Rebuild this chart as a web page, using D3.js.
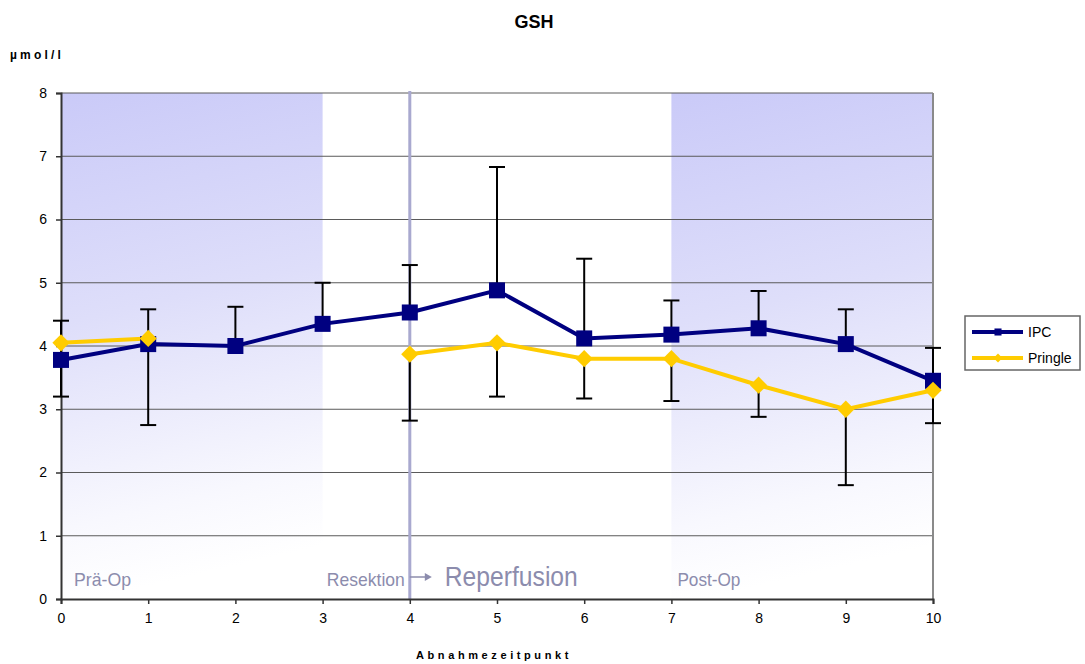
<!DOCTYPE html>
<html lang="de">
<head>
<meta charset="UTF-8" />
<title>GSH</title>
<script src="https://d3js.org/d3.v7.min.js"></script>
<style>
    body { margin: 0; background: #fff; }
    svg { display: block; font-family: "Liberation Sans", Arial, sans-serif; }
    .phase { font-family: "Liberation Sans Narrow", "Liberation Sans", sans-serif; fill: #8c8cad; }
</style>
</head>
<body>
<svg id="chart" width="1085" height="664"></svg>
<script>
    // --- Data ---
    const timepoints = [0, 1, 2, 3, 4, 5, 6, 7, 8, 9, 10];
    const ipc     = [3.78, 4.03, 4.00, 4.35, 4.53, 4.88, 4.12, 4.18, 4.28, 4.03, 3.45];
    const pringle = [4.05, 4.12, null, null, 3.87, 4.05, 3.80, 3.80, 3.38, 3.00, 3.30];
    // upper ends of IPC error bars, lower ends of Pringle error bars
    const ipcUpper     = [4.40, 4.58, 4.62, 5.00, 5.28, 6.83, 5.38, 4.72, 4.87, 4.58, 3.97];
    const pringleLower = [3.20, 2.75, null, null, 2.82, 3.20, 3.17, 3.13, 2.88, 1.80, 2.78];
    const yTicks = [0, 1, 2, 3, 4, 5, 6, 7, 8];
    const phases = [{ from: 0, to: 3 }, { from: 7, to: 10 }];

    const svg = d3.select("#chart");
    const margin = { left: 61, right: 152, top: 93, bottom: 65 };
    const W = 1085, H = 664;

    const x = d3.scaleLinear().domain([0, 10]).range([margin.left, W - margin.right]);
    const y = d3.scaleLinear().domain([0, 8]).range([H - margin.bottom, margin.top]);

    // gradient for shaded phases
    const defs = svg.append("defs");
    const grad = defs.append("linearGradient")
        .attr("id", "shade").attr("x1", 0).attr("y1", 0).attr("x2", 0.12).attr("y2", 1);
    grad.append("stop").attr("offset", "0%").attr("stop-color", "#cacaf8");
    grad.append("stop").attr("offset", "45%").attr("stop-color", "#dedefa");
    grad.append("stop").attr("offset", "85%").attr("stop-color", "#f8f8fe");
    grad.append("stop").attr("offset", "100%").attr("stop-color", "#ffffff");

    svg.selectAll("rect.phase-bg").data(phases).enter().append("rect")
        .attr("class", "phase-bg")
        .attr("x", d => x(d.from)).attr("width", d => x(d.to) - x(d.from))
        .attr("y", y(8)).attr("height", y(0) - y(8))
        .attr("fill", "url(#shade)");

    // gridlines
    svg.append("g").selectAll("line").data(yTicks.filter(t => t > 0)).enter().append("line")
        .attr("x1", x(0)).attr("x2", x(10))
        .attr("y1", d => y(d)).attr("y2", d => y(d))
        .attr("stroke", "#5a5a5a").attr("stroke-width", 1);

    // right border
    svg.append("line")
        .attr("x1", x(10)).attr("x2", x(10)).attr("y1", y(8)).attr("y2", y(0))
        .attr("stroke", "#8a8a8a").attr("stroke-width", 2);

    // resection marker line
    svg.append("line")
        .attr("x1", x(4)).attr("x2", x(4)).attr("y1", y(8) - 2).attr("y2", y(0))
        .attr("stroke", "#a9a9cf").attr("stroke-width", 3);

    // phase labels (condensed look via textLength)
    const labels = [
        { t: "Prä-Op", xv: 0, dx: 13, fs: 19, len: 57 },
        { t: "Resektion", xv: 4, dx: -83, fs: 19, len: 78 },
        { t: "Reperfusion", xv: 4, dx: 35, fs: 27, len: 133 },
        { t: "Post-Op", xv: 7, dx: 6, fs: 19, len: 63 }
    ];
    svg.append("g").selectAll("text").data(labels).enter().append("text")
        .attr("class", "phase")
        .attr("x", d => x(d.xv) + d.dx).attr("y", y(0) - 13)
        .attr("font-size", d => d.fs)
        .attr("textLength", d => d.len).attr("lengthAdjust", "spacingAndGlyphs")
        .text(d => d.t);

    // arrow after "Resektion"
    const ay = y(0) - 22;
    svg.append("line").attr("x1", x(4)).attr("x2", x(4) + 18).attr("y1", ay).attr("y2", ay)
        .attr("stroke", "#8c8cad").attr("stroke-width", 1.5);
    svg.append("path")
        .attr("d", `M${x(4) + 22},${ay} L${x(4) + 15},${ay - 4} L${x(4) + 15},${ay + 4} Z`)
        .attr("fill", "#8c8cad");

    // axes
    const xAxis = svg.append("g").attr("transform", `translate(0,${y(0)})`)
        .call(d3.axisBottom(x).tickValues(timepoints).tickSize(5).tickPadding(9).tickFormat(d3.format("d")));
    const yAxis = svg.append("g").attr("transform", `translate(${x(0)},0)`)
        .call(d3.axisLeft(y).tickValues(yTicks).tickSize(5).tickPadding(9).tickFormat(d3.format("d")));
    [xAxis, yAxis].forEach(a => {
        a.select(".domain").attr("stroke", "#333").attr("stroke-width", 2);
        a.selectAll(".tick line").attr("stroke", "#333").attr("stroke-width", 1.5);
        a.selectAll("text").attr("font-size", 14).attr("fill", "#000")
            .attr("font-family", "'Liberation Sans', Arial, sans-serif");
    });

    // error bars
    const cap = 8;
    function errBars(vals, ends) {
        const g = svg.append("g").attr("stroke", "#000").attr("stroke-width", 2);
        timepoints.forEach((t, i) => {
            if (vals[i] == null || ends[i] == null) return;
            g.append("line").attr("x1", x(t)).attr("x2", x(t))
                .attr("y1", y(vals[i])).attr("y2", y(ends[i]));
            g.append("line").attr("x1", x(t) - cap).attr("x2", x(t) + cap)
                .attr("y1", y(ends[i])).attr("y2", y(ends[i]));
        });
    }
    errBars(ipc, ipcUpper);
    errBars(pringle, pringleLower);

    // lines
    const line = d3.line().defined(d => d.v != null).x(d => x(d.t)).y(d => y(d.v));
    const ipcPts = timepoints.map((t, i) => ({ t, v: ipc[i] }));
    const prPts = timepoints.map((t, i) => ({ t, v: pringle[i] }));

    svg.append("path").datum(prPts).attr("d", line)
        .attr("fill", "none").attr("stroke", "#ffcc00").attr("stroke-width", 4);
    svg.append("path").datum(ipcPts).attr("d", line)
        .attr("fill", "none").attr("stroke", "#000080").attr("stroke-width", 4);

    // markers
    svg.append("g").selectAll("rect").data(ipcPts).enter().append("rect")
        .attr("x", d => x(d.t) - 8).attr("y", d => y(d.v) - 8)
        .attr("width", 16).attr("height", 16).attr("fill", "#000080");
    svg.append("g").selectAll("path").data(prPts.filter(d => d.v != null)).enter().append("path")
        .attr("d", d3.symbol(d3.symbolDiamond2, 190))
        .attr("transform", d => `translate(${x(d.t)},${y(d.v)})`)
        .attr("fill", "#ffcc00");

    // titles
    svg.append("text").attr("x", 534).attr("y", 28).attr("text-anchor", "middle")
        .attr("font-size", 18).attr("font-weight", "bold").text("GSH");
    svg.append("text").attr("x", 10).attr("y", 59)
        .attr("font-size", 12).attr("font-weight", "bold").attr("letter-spacing", 3.2).text("µmol/l");
    svg.append("text").attr("x", 416).attr("y", 659)
        .attr("font-size", 11).attr("font-weight", "bold").attr("letter-spacing", 3.6).text("Abnahmezeitpunkt");

    // legend
    const lg = svg.append("g").attr("transform", "translate(965,316)");
    lg.append("rect").attr("width", 115).attr("height", 54)
        .attr("fill", "#fff").attr("stroke", "#666").attr("stroke-width", 1.5);
    const items = [
        { name: "IPC", color: "#000080", sym: d3.symbolSquare, size: 50 },
        { name: "Pringle", color: "#ffcc00", sym: d3.symbolDiamond2, size: 50 }
    ];
    items.forEach((it, i) => {
        const cy = 16 + i * 26;
        lg.append("line").attr("x1", 7).attr("x2", 58).attr("y1", cy).attr("y2", cy)
            .attr("stroke", it.color).attr("stroke-width", 4);
        lg.append("path").attr("d", d3.symbol(it.sym, it.size))
            .attr("transform", `translate(33,${cy})`).attr("fill", it.color);
        lg.append("text").attr("x", 63).attr("y", cy + 5).attr("font-size", 14).text(it.name);
    });
</script>
</body>
</html>
